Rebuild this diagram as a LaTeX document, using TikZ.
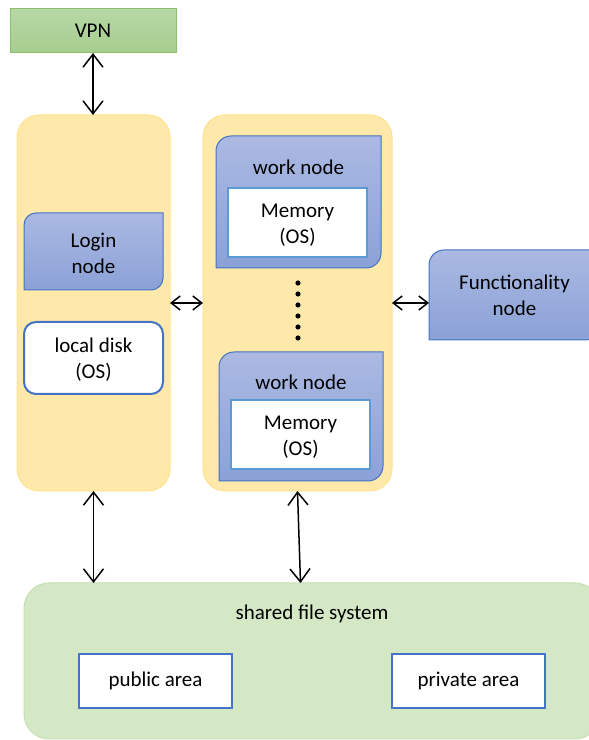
\documentclass[tikz,border=0pt]{standalone}
\usepackage{fontspec}
\setmainfont{Carlito}
\usetikzlibrary{arrows.meta}
\definecolor{boxyellow}{HTML}{FFE9AA}
\definecolor{boxyellowline}{HTML}{FFE28F}
\definecolor{nodebluetop}{HTML}{ABB9E2}
\definecolor{nodebluebot}{HTML}{8BA1D7}
\definecolor{nodeblueline}{HTML}{4472C4}
\definecolor{memline}{HTML}{5B9BD5}
\definecolor{vpntop}{HTML}{B6D8A6}
\definecolor{vpnbot}{HTML}{A6CD8E}
\definecolor{vpnline}{HTML}{8CC06C}
\definecolor{sharedfill}{HTML}{D5E8C6}
\definecolor{sharedline}{HTML}{C6DFB4}
\def\twocorner[#1](#2,#3)(#4,#5)(#6){\path[#1] (#2,#3) -- (#2,#5-#6) arc (180:90:#6) -- (#4,#5) -- (#4,#3+#6) arc (0:-90:#6) -- cycle;}

\begin{document}
\begin{tikzpicture}[x=1pt, y=1pt, font=\fontsize{21}{26}\selectfont,
	container/.style={fill=boxyellow, draw=boxyellowline, line width=1pt, rounded corners=22pt, inner sep=0pt, outer sep=0pt},
	bluebox/.style={top color=nodebluetop, bottom color=nodebluebot, draw=nodeblueline, line width=1pt},
	whitebox/.style={fill=white, draw=nodeblueline, line width=2pt, inner sep=0pt, outer sep=0pt, align=center},
	memory/.style={fill=white, draw=memline, line width=2pt, inner sep=0pt, align=center, minimum width=139, minimum height=69},
	link/.style={{Straight Barb[length=13pt,width=20pt]}-{Straight Barb[length=13pt,width=20pt]}, line width=1.5pt},
	shortlink/.style={{Straight Barb[length=9pt,width=14pt]}-{Straight Barb[length=9pt,width=14pt]}, line width=1.5pt}]
	%%%%% START %%%%%
	\useasboundingbox (0,0) rectangle (589,740);
	\clip (0,0) rectangle (589,740);
	
	% top
	\node[top color=vpntop, bottom color=vpnbot, draw=vpnline, line width=1pt, minimum width=166, minimum height=44, inner sep=0pt, outer sep=0pt] (vpn) at (93,709) {VPN};
	
	% the two yellow groups
	\node[container, minimum width=153, minimum height=376] (leftbox) at (93.5,437) {};
	\node[container, minimum width=189, minimum height=376] (midbox) at (297.5,437) {};
	
	% login side
	\twocorner[bluebox](24,450)(163,527)(12)
	\node[align=center] (login) at (93.5,487) {Login\\node};
	\node[whitebox, rounded corners=12pt, minimum width=139, minimum height=72] (disk) at (93.5,382) {};
	\node[align=center] (disklabel) at (93.5,380) {local disk\\(OS)};
	
	% work nodes
	\twocorner[bluebox](216,472)(381,604)(15)
	\node (work1) at (298.5,573) {work node};
	\node[memory] (mem1) at (297.5,517.5) {};
	\node[align=center] (mem1label) at (297.5,515) {Memory\\(OS)};
	
	\foreach \y in {457,446,...,402}
		\fill (298,\y) circle (2.6);
	
	\twocorner[bluebox](219,259)(383,388)(15)
	\node (work2) at (301,358) {work node};
	\node[memory] (mem2) at (300.5,305.5) {};
	\node[align=center] (mem2label) at (300.5,303) {Memory\\(OS)};
	
	% right
	\twocorner[bluebox](429,400)(600,490)(15)
	\node[align=center, minimum width=171, minimum height=90, inner sep=0pt, outer sep=0pt] (func) at (514.5,445) {Functionality\\node};
	
	% bottom
	\node[fill=sharedfill, draw=sharedline, line width=1pt, rounded corners=25pt, minimum width=576, minimum height=156, inner sep=0pt, outer sep=0pt] (shared) at (312,79) {};
	\node (sharedlabel) at (312,126) {shared file system};
	\node[whitebox, minimum width=153, minimum height=54] (public) at (155.5,59) {public area};
	\node[whitebox, minimum width=153, minimum height=54] (private) at (468.5,59) {private area};
	
	% links
	\draw[link] (vpn.south) -- (vpn.south |- leftbox.north);
	\draw[shortlink] (leftbox) -- (midbox);
	\draw[shortlink] (midbox.east) -- (func.west |- midbox.east);
	\draw[link] (leftbox.south) -- (leftbox.south |- shared.north);
	\draw[link] (midbox.south) -- ([xshift=3pt]midbox.south |- shared.north);
	
	%%%%% END %%%%%
\end{tikzpicture}
\end{document}
